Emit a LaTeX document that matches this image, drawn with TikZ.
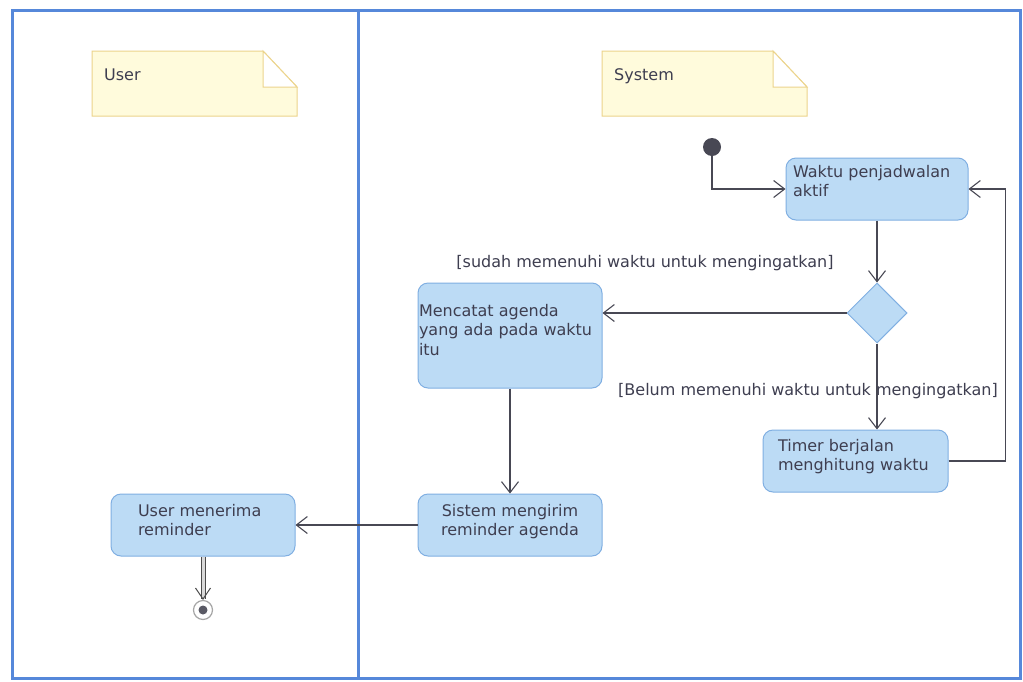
\documentclass[tikz,border=0pt]{standalone}
\usepackage{fontspec}
\setmainfont{DejaVu Sans}
\usetikzlibrary{shapes.geometric,arrows.meta,calc}
\definecolor{frameblue}{RGB}{86,136,218}
\definecolor{actfill}{RGB}{188,219,245}
\definecolor{actdraw}{RGB}{128,175,226}
\definecolor{notefill}{RGB}{255,251,220}
\definecolor{notedraw}{RGB}{236,212,140}
\definecolor{txt}{RGB}{62,62,80}
\definecolor{edgecol}{RGB}{72,72,84}
% width, height, top pad, alignment, text
\newcommand\acttxt[5]{\parbox[c][#2][t]{#1}{\vspace*{#3}#4\fontsize{16}{19.5}\selectfont #5\par}}
\begin{document}
\begin{tikzpicture}[x=1pt,y=-1pt,
  act/.style={draw=actdraw, fill=actfill, rounded corners=10pt, line width=1pt, inner ysep=0pt, text=txt},
  flow/.style={draw=edgecol, line width=1.1pt, -{Straight Barb[length=11pt,width=17pt,line width=1.1pt]}},
  lbl/.style={text=txt, font=\fontsize{16}{19}\selectfont, inner sep=0pt},
  note/.style={draw=notedraw, fill=notefill, line width=1pt},
  notetext/.style={text=txt, font=\fontsize{16}{19}\selectfont, inner sep=0pt, anchor=base west}]
\useasboundingbox (0,0) rectangle (1023,681);
\fill[white] (0,0) rectangle (1023,681);
% frame and swimlanes
\draw[frameblue, line width=3pt] (12,10) rectangle (1020,678);
\draw[frameblue, line width=3pt] (358,10) -- (358,678);
% notes
\draw[note] (92,51) -- (263,51) -- (297,87) -- (297,116) -- (92,116) -- cycle;
\draw[note, fill=white] (263,51) -- (297,87) -- (263,87) -- cycle;
\node[notetext] (usernote) at (104,80) {User};
\draw[note] (602,51) -- (773,51) -- (807,87) -- (807,116) -- (602,116) -- cycle;
\draw[note, fill=white] (773,51) -- (807,87) -- (773,87) -- cycle;
\node[notetext] (sysnote) at (614,80) {System};
% initial node
\node[circle, fill=edgecol, minimum size=18pt, inner sep=0pt] (init) at (712,147) {};
% activities
\node[act, inner xsep=7pt] (waktu) at (877,189)
  {\acttxt{168pt}{62pt}{7pt}{\raggedright}{Waktu penjadwalan\\aktif}};
\node[diamond, aspect=1, draw=actdraw, fill=actfill, line width=1pt, minimum width=60pt, minimum height=60pt, inner sep=0pt] (dec) at (877,313) {};
\node[act, inner xsep=1pt] (mencatat) at (510,335.5)
  {\acttxt{182pt}{105pt}{21pt}{\raggedright}{Mencatat agenda\\yang ada pada waktu\\itu}};
\node[act, inner xsep=15pt] (timer) at (855.5,461)
  {\acttxt{155pt}{62pt}{9pt}{\raggedright}{Timer berjalan\\menghitung waktu}};
\node[act, inner xsep=5pt] (sistem) at (510,525)
  {\acttxt{174pt}{62pt}{10pt}{\centering}{Sistem mengirim\\reminder agenda}};
\node[act, inner xsep=27pt] (user) at (203,525)
  {\acttxt{130pt}{62pt}{10pt}{\raggedright}{User menerima\\reminder}};
% final node
\node[circle, draw=gray!70, line width=1.2pt, fill=white, minimum size=19pt, inner sep=0pt] (final) at (203,610) {};
\node[circle, fill=edgecol!90, minimum size=9pt, inner sep=0pt] (finaldot) at (final) {};
% guard labels
\node[lbl] (gsudah) at (645,263) {[sudah memenuhi waktu untuk mengingatkan]};
\node[lbl] (gbelum) at (808,391) {[Belum memenuhi waktu untuk mengingatkan]};
% connectors
\draw[flow] (init) |- (waktu.west);
\draw[flow] (waktu) -- (dec);
\draw[flow] (dec.west) -- (dec.west -| mencatat.east);
\draw[flow] (dec.south) -- (dec.south |- timer.north);
\draw[flow] (timer.east) -- ++(57,0) |- (waktu.east);
\draw[flow] (mencatat) -- (sistem);
\draw[flow] (sistem.west) -- (sistem.west -| user.east);
\draw[draw=gray!60!black, double=gray!30, double distance=3pt, line width=1pt,
  -{Straight Barb[length=11pt,width=15pt,line width=1pt]}] (user.south) -- (final.north);
\end{tikzpicture}
\end{document}
